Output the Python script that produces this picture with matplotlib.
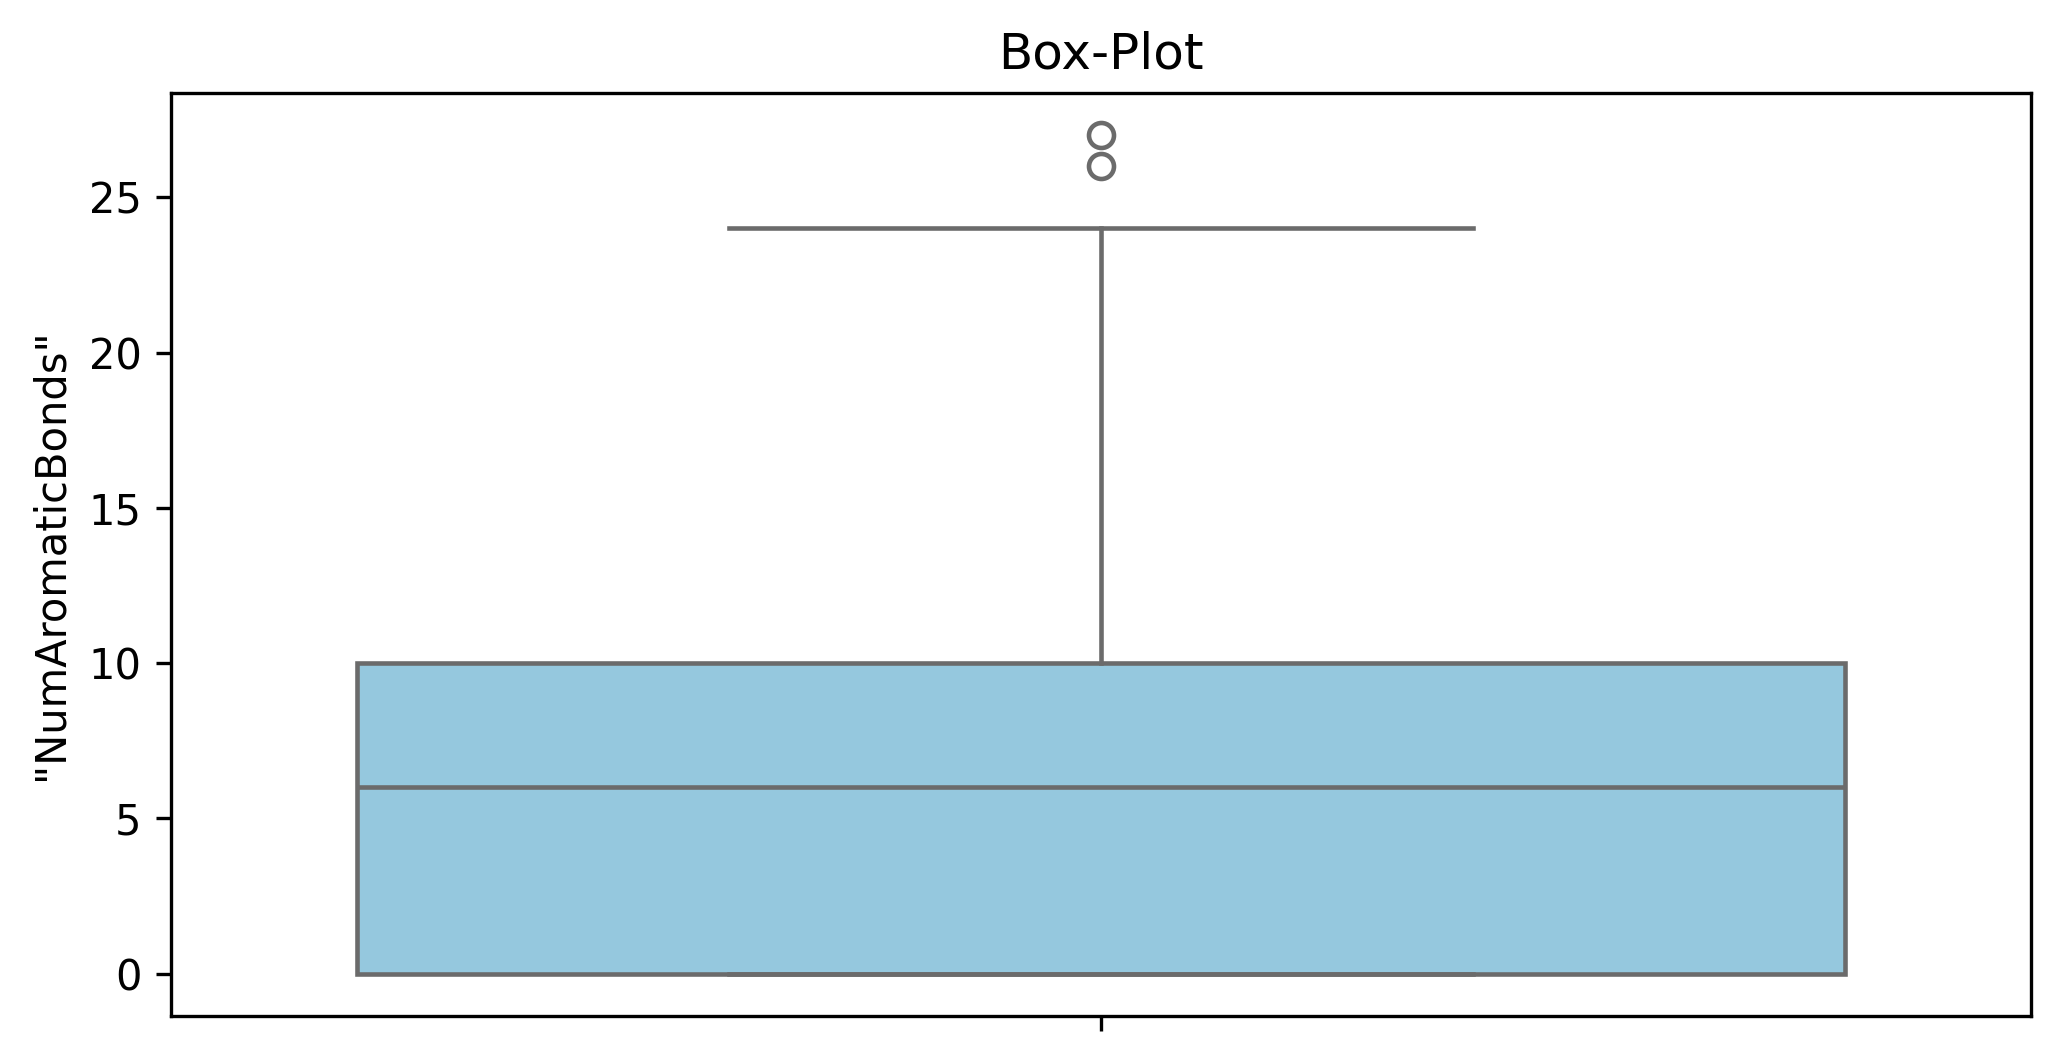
import matplotlib
matplotlib.use("Agg")
import matplotlib.pyplot as plt

# Box statistics
label = '"NumAromaticBonds"'
whisker_low = 0
q1 = 0
median = 6
q3 = 10
whisker_high = 24
outliers = [26, 27]

stats = [dict(med=median, q1=q1, q3=q3, whislo=whisker_low, whishi=whisker_high,
              fliers=outliers, label="")]

fig = plt.figure(figsize=(2060 / 300, 1061 / 300), dpi=300)
ax = fig.add_axes([0.0829, 0.0428, 0.9031, 0.8692])

gray = "#6b6b6b"
face = "#95c8de"
lw = 1.1
ax.bxp(stats, positions=[0], widths=0.8, patch_artist=True, manage_ticks=False,
       boxprops=dict(facecolor=face, edgecolor=gray, linewidth=lw),
       whiskerprops=dict(color=gray, linewidth=lw),
       capprops=dict(color=gray, linewidth=lw),
       medianprops=dict(color=gray, linewidth=lw),
       flierprops=dict(marker="o", markerfacecolor="none", markeredgecolor=gray,
                       markersize=6, markeredgewidth=lw),
       capwidths=0.4)

ax.set_xlim(-0.5, 0.5)
ax.set_ylim(-1.35, 28.35)
ax.set_xticks([0])
ax.set_xticklabels([""])
ax.set_yticks([0, 5, 10, 15, 20, 25])
ax.set_ylabel(label)
ax.set_title("Box-Plot")

fig.savefig("out.png", dpi=300)
